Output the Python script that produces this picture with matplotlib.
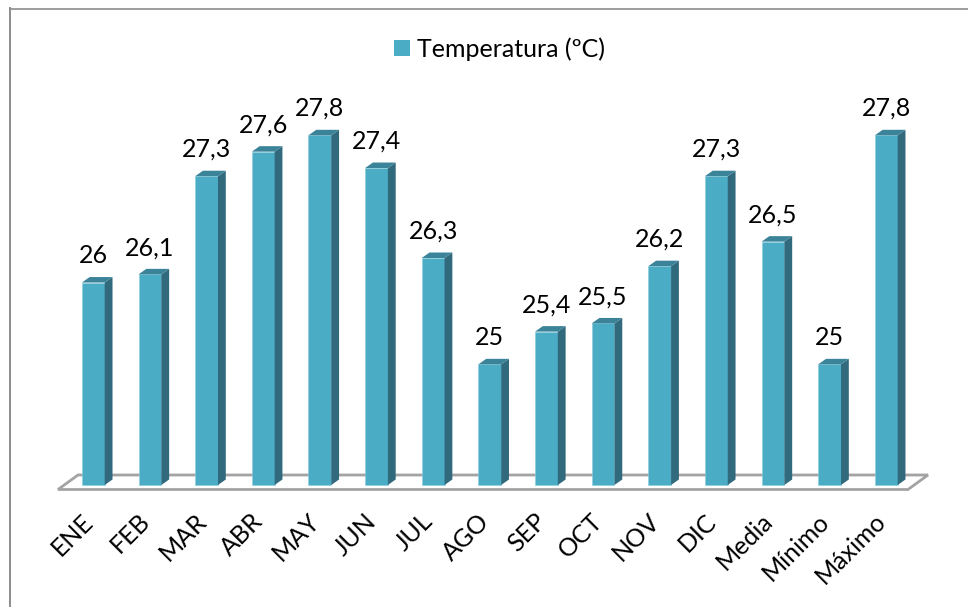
import matplotlib
matplotlib.use("Agg")
import matplotlib.pyplot as plt
from matplotlib.patches import Polygon, Patch
from matplotlib.lines import Line2D
from matplotlib.transforms import ScaledTranslation

categories = ["ENE", "FEB", "MAR", "ABR", "MAY", "JUN", "JUL", "AGO", "SEP", "OCT",
              "NOV", "DIC", "Media", "Mínimo", "Máximo"]
temperatura = [26, 26.1, 27.3, 27.6, 27.8, 27.4, 26.3, 25, 25.4, 25.5, 26.2, 27.3, 26.5, 25, 27.8]
series_name = "Temperatura (ºC)"

FRONT, SIDE, TOP = "#4BACC6", "#31697D", "#3A8399"
W, H = 968, 607
FS = 18
plt.rcParams["font.family"] = ["Lato", "DejaVu Sans"]

fig = plt.figure(figsize=(W / 100, H / 100), dpi=100, facecolor="white")

# plot area in pixels (left, right, top, bottom)
L, R, T, B = 58, 908, 60, 490
ax = fig.add_axes([L / W, 1 - B / H, (R - L) / W, (B - T) / H])
ax.patch.set_alpha(0)
px_x = 56.64          # pixels per category
px_y = 81.8           # pixels per degree
x0 = (L - 93.3) / px_x
y_base = 23.525       # value drawn at the base of the bars
ax.set_xlim(x0, x0 + (R - L) / px_x)
ax.set_ylim(y_base - (B - 485) / px_y, y_base + (485 - T) / px_y)
for s in ax.spines.values():
    s.set_visible(False)
ax.yaxis.set_visible(False)

# floor of the 3-D chart
floor = Polygon([[58 / W, 1 - 489.5 / H], [908 / W, 1 - 489.5 / H], [928 / W, 1 - 475 / H], [78 / W, 1 - 475 / H]],
                closed=True, transform=fig.transFigure, facecolor="white", edgecolor="#A3A3A3", linewidth=2.0, zorder=0)
fig.add_artist(floor)

bar_w = 22.8 / px_x
dx = 7.8 / px_x
dy = 5.5 / px_y
for i, v in enumerate(temperatura):
    l, r = i - bar_w / 2, i + bar_w / 2
    ax.bar(i, v - y_base, bottom=y_base, width=bar_w, color=FRONT, edgecolor="#8CCBDB", linewidth=0.4, zorder=3)
    ax.fill([r, r + dx, r + dx, r], [y_base, y_base + dy, v + dy, v], color=SIDE, linewidth=0, zorder=3)
    ax.fill([l, r, r + dx, l + dx], [v, v, v + dy, v + dy], color=TOP, linewidth=0, zorder=3)
    ax.annotate(str(v).replace(".", ","), (i, v), xytext=(0, 11), textcoords="offset points",
                ha="center", va="bottom", fontsize=FS, color="black", zorder=4)

ax.set_xticks(range(len(categories)))
ax.set_xticklabels(categories, rotation=45, ha="right", va="top", rotation_mode="anchor", fontsize=FS)
ax.tick_params(axis="x", length=0, pad=14)
shift = ScaledTranslation(-12 / 100, 0, fig.dpi_scale_trans)
for lab in ax.get_xticklabels():
    lab.set_transform(lab.get_transform() + shift)

fig.legend(handles=[Patch(facecolor=FRONT, label=series_name)], loc="center", frameon=False,
           bbox_to_anchor=(499.5 / W, 1 - 49 / H), fontsize=FS, handlelength=0.62, handleheight=0.62, handletextpad=0.27)

# outer frame: top and left edges
fig.add_artist(Line2D([10 / W, 1], [1 - 8.5 / H, 1 - 8.5 / H], transform=fig.transFigure, color="#8C8C8C", linewidth=1.2))
fig.add_artist(Line2D([10 / W, 10 / W], [0, 1 - 8 / H], transform=fig.transFigure, color="#8C8C8C", linewidth=1.4))

fig.savefig("out.png", dpi=100)
